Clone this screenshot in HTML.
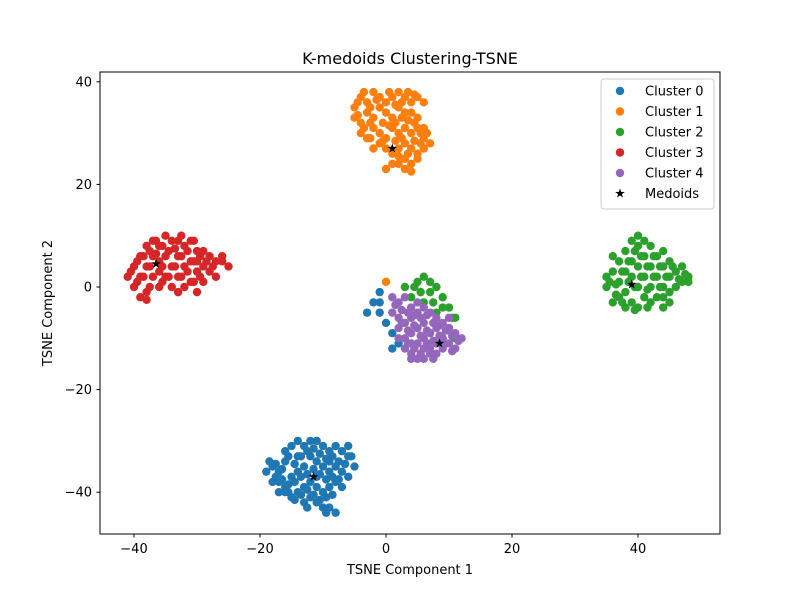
<!DOCTYPE html>
<html><head><meta charset="utf-8"><style>
body{margin:0;background:#fff;font-family:"Liberation Sans","DejaVu Sans",sans-serif;}
svg text{font-family:"DejaVu Sans","Liberation Sans",sans-serif;}
</style></head><body>
<svg id="chart" width="800" height="600" viewBox="0 0 800 600" xmlns="http://www.w3.org/2000/svg">
<rect width="800" height="600" fill="#fff"/>
<g id="marks"></g>
<rect x="100" y="72" width="620" height="462" fill="none" stroke="#000" stroke-width="1"/>
<g id="axes" font-size="13"></g>
<text x="410" y="64" text-anchor="middle" font-size="16">K-medoids Clustering-TSNE</text>
<text x="410" y="574" text-anchor="middle" font-size="13">TSNE Component 1</text>
<text x="52" y="303" text-anchor="middle" font-size="13" transform="rotate(-90 52 303)">TSNE Component 2</text>
<g id="legend"></g>
</svg>
<script>
const xTicks=[-40,-20,0,20,40];
const yTicks=[-40,-20,0,20,40];
const clusterNames=["Cluster 0","Cluster 1","Cluster 2","Cluster 3","Cluster 4"];
const colors=["#1f77b4","#ff7f0e","#2ca02c","#d62728","#9467bd"];
const cluster0=[[-18,-35],[-17,-36],[-16,-34],[-15,-31],[-14,-30],[-13,-31],[-12,-30],[-11,-30],[-10,-31],[-9,-32],[-8,-31],[-7,-32],[-6,-33],[-17,-38],[-16,-39],[-15,-37],[-14,-36],[-13,-35],[-12,-33],[-11,-34],[-10,-35],[-9,-36],[-8,-35],[-7,-36],[-6,-37],[-16,-40],[-15,-41],[-14,-40],[-13,-39],[-12,-38],[-11,-39],[-10,-40],[-9,-39],[-8,-38],[-13,-42],[-12,-41],[-11,-42],[-10,-43],[-9,-43],[-8,-44],[-18,-38],[-19,-36],[-14,-33],[-16,-32],[-9,-34],[-5,-35],[-7,-39],[-11,-37],[-1,-1],[-2,-3],[-1,-5],[-3,-5],[0,-7],[1,-9],[2,-11],[1,-12],[-1,-3],
[-17.5,-34.5],[-16.5,-35.5],[-15.5,-33],[-14.5,-34.5],[-13.5,-33],[-12.5,-32],[-11.5,-31.5],[-10.5,-32.5],[-9.5,-33.5],[-8.5,-33],[-7.5,-34],[-6.5,-34.5],[-17.5,-37],[-16.5,-37.5],[-15.5,-38.5],[-14.5,-38],[-13.5,-37],[-12.5,-36.5],[-11.5,-35.5],[-10.5,-36.5],[-9.5,-37.5],[-8.5,-37],[-7.5,-37.5],[-15.5,-40],[-14.5,-41.5],[-13.5,-40.5],[-12.5,-39.5],[-11.5,-40.5],[-10.5,-41.5],[-9.5,-41],[-8.5,-40.5],[-12.5,-43],[-9.5,-44],[-17,-40],[-6,-31],[-5.5,-33],[-18.5,-34]];
const cluster1=[[-5,35],[-4,37],[-3,36],[-2,38],[-1,37],[0,36],[1,37],[2,38],[3,37],[4,36],[5,37],[6,36],[-5,33],[-4,32],[-3,34],[-2,33],[-1,35],[0,34],[1,33],[2,35],[3,34],[4,34],[5,33],[-4,30],[-3,29],[-2,31],[-1,30],[0,29],[1,31],[2,30],[3,31],[4,30],[5,31],[6,29],[7,28],[-2,27],[-1,28],[0,27],[1,26],[2,27],[3,28],[4,27],[5,26],[6,27],[1,24],[2,24],[3,23],[4,24],[0,23],[5,25],[0,1],
[-4.5,36],[-3.5,38],[-2.5,35],[-1.5,36.5],[0.5,38],[1.5,35.5],[2.5,36],[3.5,38],[4.5,37.5],[-4.5,33.5],[-3.5,31],[-2.5,32],[-0.5,32],[0.5,31.5],[1.5,32],[2.5,33],[3.5,32.5],[4.5,32],[5.5,30],[-2.5,29],[-0.5,28.5],[1.5,28.5],[2.5,29],[3.5,26],[4.5,28.5],[5.5,28],[6.5,30],[2,25.5],[3,25],[4,22.5],[6,31]];
const cluster2=[[35,2],[35,0],[36,-3],[36,3],[37,5],[37,1],[37,-2],[38,7],[38,3],[38,-1],[38,-4],[39,9],[39,5],[39,2],[39,-3],[40,8],[40,4],[40,0],[40,-4],[41,6],[41,2],[41,-2],[42,8],[42,4],[42,0],[42,-3],[43,6],[43,2],[43,-2],[44,7],[44,4],[44,0],[44,-4],[45,5],[45,2],[45,-1],[46,3],[46,0],[47,4],[47,1],[48,2],[48,1],[36,6],[44,-2],[3,0],[4,-2],[5,1],[6,2],[7,1],[8,0],[9,-2],[10,-4],[11,-6],[6,-3],[8,-5],[10,-8],[11,-10],[9,-10],
[35.5,1],[36.5,0.5],[36.5,-1.5],[37.5,3],[37.5,-3],[38.5,5],[38.5,1],[39.5,7],[39.5,0],[39.5,-4.5],[40.5,2],[40.5,6],[41.5,4],[41.5,-0.5],[41.5,-4],[42.5,6],[42.5,2],[43.5,4],[43.5,0],[44.5,2],[45.5,4],[46.5,1.5],[47.5,2.5],[45,-3],[40,10],[41,9],[4.5,0],[5.5,-1],[7,-1],[9,-4],[7.5,-3],[10.5,-6]];
const cluster3=[[-41,2],[-40,4],[-40,0],[-39,6],[-39,2],[-38,8],[-38,4],[-38,-1],[-37,9],[-37,6],[-37,2],[-36,8],[-36,3],[-36,0],[-35,10],[-35,6],[-35,2],[-34,9],[-34,4],[-34,0],[-33,9],[-33,6],[-33,2],[-33,-1],[-32,8],[-32,4],[-32,0],[-31,9],[-31,5],[-31,1],[-30,7],[-30,3],[-30,-1],[-29,7],[-29,4],[-29,1],[-28,6],[-28,3],[-27,5],[-27,2],[-26,5],[-25,4],[-39,-2],[-36,5],[-30,5],
[-40.5,3],[-39.5,5],[-39.5,1],[-38.5,6],[-38.5,2],[-37.5,7],[-37.5,4],[-37.5,0],[-36.5,9],[-36.5,6.5],[-35.5,8],[-35.5,4],[-35.5,1],[-34.5,7],[-34.5,2],[-33.5,7.5],[-33.5,4],[-32.5,10],[-32.5,6],[-32.5,2],[-31.5,7],[-31.5,3],[-30.5,9],[-30.5,5],[-30.5,1],[-29.5,6],[-29.5,2],[-28.5,5],[-27.5,4],[-26,6],[-38,-2.5]];
const cluster4=[[1,-2],[2,-3],[3,-2],[4,-4],[5,-3],[6,-4],[7,-5],[8,-6],[9,-7],[10,-8],[11,-9],[12,-10],[1,-5],[2,-6],[3,-7],[4,-6],[5,-8],[6,-7],[7,-9],[8,-8],[9,-10],[10,-11],[11,-12],[2,-8],[3,-10],[4,-9],[5,-11],[6,-10],[7,-12],[8,-13],[9,-12],[3,-12],[4,-13],[5,-14],[6,-14],[7,-13],[4,-11],[6,-12],[10,-6],[5,-5],[8,-11],
[1.5,-3.5],[2.5,-4.5],[3.5,-5],[4.5,-5.5],[5.5,-6],[6.5,-5.5],[7.5,-7],[8.5,-7.5],[9.5,-8.5],[10.5,-9.5],[11.5,-10.5],[2.5,-7],[3.5,-8.5],[4.5,-7.5],[5.5,-9.5],[6.5,-8.5],[7.5,-10.5],[8.5,-9.5],[9.5,-11],[10.5,-12.5],[3.5,-11],[4.5,-12],[5.5,-13],[6.5,-11],[7.5,-14],[4,-14],[2,-10]];
const medoidX=[-11.5,1,39,-36.5,8.5];
const medoidY=[-37,27,0.5,4.5,-11];
const clusters=[cluster0,cluster1,cluster2,cluster3,cluster4];
const NS="http://www.w3.org/2000/svg";
const sx=v=>386+v*6.3;
const sy=v=>287-v*5.13;
const marks=document.getElementById('marks');
clusters.forEach((pts,ci)=>{
  const g=document.createElementNS(NS,'g');
  
  
  pts.forEach(p=>{
    const c=document.createElementNS(NS,'circle');
    c.setAttribute('cx',sx(p[0]));c.setAttribute('cy',sy(p[1]));c.setAttribute('r',4.2);c.setAttribute('fill',colors[ci]);
    
    
    g.appendChild(c);
  });
  marks.appendChild(g);
});
function star(cx,cy,R){const r=R*0.4;let d='';for(let i=0;i<10;i++){const a=-Math.PI/2+i*Math.PI/5;const rr=i%2?r:R;d+=(i?'L':'M')+(cx+rr*Math.cos(a)).toFixed(2)+','+(cy+rr*Math.sin(a)).toFixed(2);}return d+'Z';}
medoidX.forEach((mx,i)=>{
  const p=document.createElementNS(NS,'path');
  p.setAttribute('d',star(sx(mx),sy(medoidY[i]),5));p.setAttribute('fill','#000');
  
  
  marks.appendChild(p);
});
const axes=document.getElementById('axes');
xTicks.forEach(t=>{
  const x=sx(t);
  const l=document.createElementNS(NS,'line');
  l.setAttribute('x1',x);l.setAttribute('x2',x);l.setAttribute('y1',534);l.setAttribute('y2',537.5);l.setAttribute('stroke','#000');
  
  
  axes.appendChild(l);
  const tx=document.createElementNS(NS,'text');
  tx.setAttribute('x',x);tx.setAttribute('y',553);tx.setAttribute('text-anchor','middle');
  tx.textContent=t<0?'\u2212'+(-t):String(t);
  
  
  axes.appendChild(tx);
});
yTicks.forEach(t=>{
  const y=sy(t);
  const l=document.createElementNS(NS,'line');
  l.setAttribute('x1',96.5);l.setAttribute('x2',100);l.setAttribute('y1',y);l.setAttribute('y2',y);l.setAttribute('stroke','#000');
  
  
  axes.appendChild(l);
  const tx=document.createElementNS(NS,'text');
  tx.setAttribute('x',92);tx.setAttribute('y',y+4.5);tx.setAttribute('text-anchor','end');
  tx.textContent=t<0?'\u2212'+(-t):String(t);
  
  
  axes.appendChild(tx);
});
const lg=document.getElementById('legend');
const box=document.createElementNS(NS,'rect');
box.setAttribute('x',601);box.setAttribute('y',79);box.setAttribute('width',113);box.setAttribute('height',130);box.setAttribute('rx',3);
box.setAttribute('fill','#fff');box.setAttribute('fill-opacity','0.8');box.setAttribute('stroke','#ccc');


lg.appendChild(box);
clusterNames.concat(['Medoids']).forEach((n,i)=>{
  const y=91+i*20.5;
  let m;
  if(i<5){m=document.createElementNS(NS,'circle');m.setAttribute('cx',620);m.setAttribute('cy',y);m.setAttribute('r',4.2);m.setAttribute('fill',colors[i]);}
  else{m=document.createElementNS(NS,'path');m.setAttribute('d',star(620,y,5));m.setAttribute('fill','#000');}
  
  
  lg.appendChild(m);
  const t=document.createElementNS(NS,'text');
  t.setAttribute('x',645);t.setAttribute('y',y+4.5);t.setAttribute('font-size','13');t.textContent=n;
  
  
  lg.appendChild(t);
});
</script>
</body></html>
